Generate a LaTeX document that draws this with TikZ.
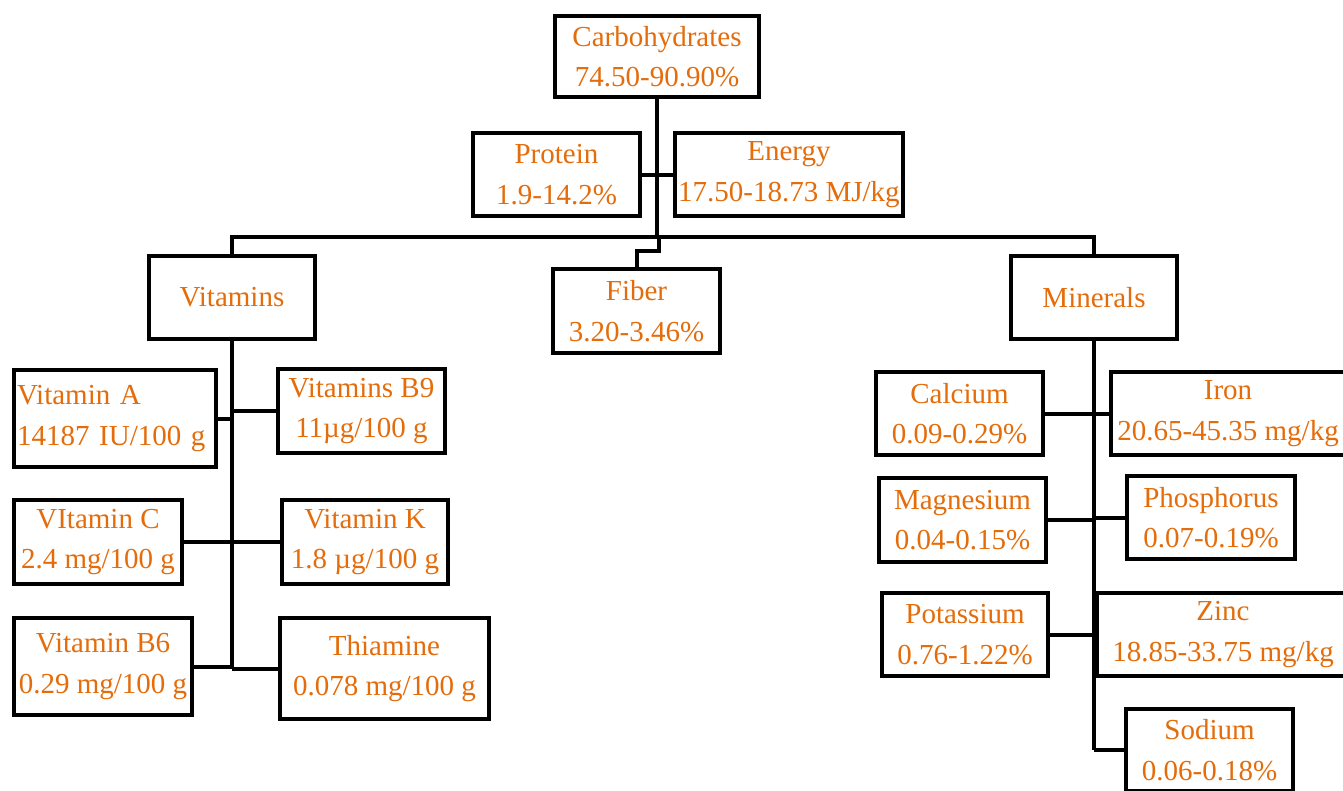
\documentclass[tikz,border=0pt]{standalone}
\usepackage{fontspec}
\setmainfont{Liberation Serif}
\definecolor{txt}{RGB}{228,108,10}
\tikzset{
  box/.style={draw=black, line width=4.5pt, text=txt, inner sep=0pt, align=center,
    font=\fontsize{29}{40.5}\selectfont},
  trunk/.style={line width=4.5pt},
  branch/.style={line width=4pt},
}
\newcommand\bx[6]{\node[box, minimum width={#4-#2}, minimum height={#5-#3}] (#1) at ({(#2+#4)/2},{(#3+#5)/2}) {#6};}
\begin{document}
\begin{tikzpicture}[x=1pt,y=-1pt]
\fill[white] (0,0) rectangle (1343,790);
\useasboundingbox (0,0) rectangle (1343,790);
% top
\bx{carb}{555}{16}{759}{97}{Carbohydrates\\74.50-90.90\%}
\bx{prot}{473}{133}{640}{216}{Protein\\1.9-14.2\%}
\bx{ener}{675}{133}{903}{216}{Energy\\17.50-18.73 MJ/kg}
\bx{vit}{149}{256}{315}{339}{Vitamins}
\bx{fib}{553}{269}{720}{353}{Fiber\\3.20-3.46\%}
\bx{min}{1011}{256}{1177}{339}{Minerals}
% vitamins
\node[box, align=left, inner xsep=3pt, text width=196pt, minimum height=97pt] (vA) at (115,418.5) {Vitamin A\\14187 IU/100 g};
\bx{vB}{278}{369}{445}{453}{Vitamins B9\\11µg/100 g}
\bx{vC}{14}{500}{182}{584}{VItamin C\\2.4 mg/100 g}
\bx{vK}{282}{500}{448}{584}{Vitamin K\\1.8 µg/100 g}
\bx{vB6}{14}{618}{192}{715}{Vitamin B6\\0.29 mg/100 g}
\bx{thi}{280}{618}{489}{719}{Thiamine\\0.078 mg/100 g}
% minerals
\bx{cal}{876}{372}{1043}{455}{Calcium\\0.09-0.29\%}
\bx{iron}{1111}{372}{1345}{455}{Iron\\20.65-45.35 mg/kg}
\bx{mag}{879}{478}{1046}{562}{Magnesium\\0.04-0.15\%}
\bx{pho}{1127}{476}{1295}{559}{Phosphorus\\0.07-0.19\%}
\bx{pot}{882}{593}{1048}{676}{Potassium\\0.76-1.22\%}
\bx{zinc}{1097}{593}{1349}{676}{Zinc\\18.85-33.75 mg/kg}
\bx{sod}{1126}{709}{1293}{791}{Sodium\\0.06-0.18\%}
% connectors
\coordinate (hub) at (659,237);
\draw[trunk] (carb.south) -- (carb.south |- hub);
\draw[branch] (prot.east) -- (ener.west);
\draw[trunk] (vit.north) -- (vit.north |- hub) -- (min.north |- hub) -- (min.north);
\draw[branch] (hub) -- ++(0,14) -| (fib.north);
% vitamin tree
\draw[trunk] (vit.south) -- (vit.south |- thi.west);
\draw[branch] (vA.east) -- (vA.east -| vit.south);
\draw[branch] (vB.west) -- (vB.west -| vit.south);
\draw[branch] (vC.east) -- (vK.west);
\draw[branch] (vB6.east) -- (vB6.east -| vit.south);
\draw[branch] (thi.west) -- (thi.west -| vit.south);
% mineral tree
\draw[trunk] (min.south) -- (min.south |- sod.west);
\draw[branch] (cal.east) -- (iron.west);
\draw[branch] (mag.east) -- (mag.east -| min.south);
\draw[branch] (pho.west) -- (pho.west -| min.south);
\draw[branch] (pot.east) -- (zinc.west);
\draw[branch] (sod.west) -- (sod.west -| min.south);
\end{tikzpicture}
\end{document}
